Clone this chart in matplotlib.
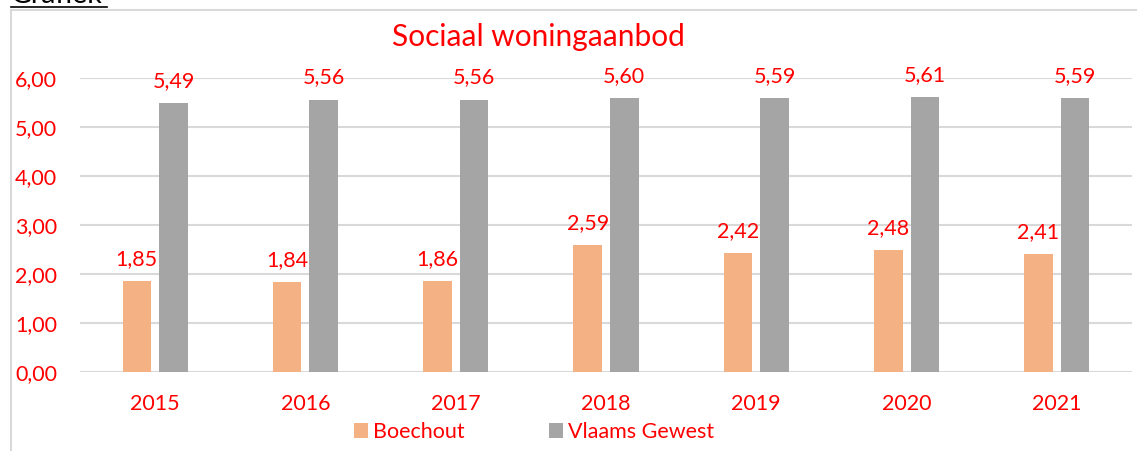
import matplotlib
matplotlib.use("Agg")
import matplotlib.pyplot as plt
import numpy as np
from matplotlib.lines import Line2D
from matplotlib.patches import Patch

years = ["2015", "2016", "2017", "2018", "2019", "2020", "2021"]
boechout = [1.85, 1.84, 1.86, 2.59, 2.42, 2.48, 2.41]
vlaams = [5.49, 5.56, 5.56, 5.60, 5.59, 5.61, 5.59]
series_names = ["Boechout", "Vlaams Gewest"]
yticks = [0, 1, 2, 3, 4, 5, 6]

plt.rcParams['font.family'] = ['Lato', 'DejaVu Sans']
RED = '#FF0000'
ORANGE = '#F4B183'
GREY = '#A5A5A5'
GRID = '#D9D9D9'
FS = 15.5

W, H = 1137, 451
fig = plt.figure(figsize=(W/100, H/100), dpi=100)
ax = fig.add_axes([80/W, 1-372/H, (1132-80)/W, (372-78)/H])

x = np.arange(len(years))
bw = 0.19
off = 0.122
b1 = ax.bar(x - off, boechout, bw, color=ORANGE, zorder=3)
b2 = ax.bar(x + off, vlaams, bw, color=GREY, zorder=3)

def fmt(v):
    return f"{v:.2f}".replace('.', ',')

for bars, vals in ((b1, boechout), (b2, vlaams)):
    for r, v in zip(bars, vals):
        ax.annotate(fmt(v), (r.get_x() + r.get_width()/2, v), xytext=(0, 11.5),
                    textcoords='offset points', ha='center', va='baseline',
                    color=RED, fontsize=FS, zorder=5)

ax.set_xlim(-0.5, len(years) - 0.5)
ax.set_ylim(0, 6)
ax.set_yticks(yticks)
ax.set_yticklabels([fmt(v) for v in yticks])
ax.set_xticks(x)
ax.set_xticklabels(years)
ax.tick_params(axis='both', length=0, labelcolor=RED, labelsize=FS)
ax.tick_params(axis='y', pad=16.5)
ax.tick_params(axis='x', pad=16)
ax.yaxis.grid(True, color=GRID, linewidth=1.5, zorder=0)
ax.set_axisbelow(True)
for s in ax.spines.values():
    s.set_visible(False)
ax.patch.set_alpha(0)

# title
fig.text(538/W, 1-37/H, "Sociaal woningaanbod", ha='center', va='center',
         color=RED, fontsize=21.5)

# legend
handles = [Patch(facecolor=ORANGE, edgecolor='none'), Patch(facecolor=GREY, edgecolor='none')]
fig.legend(handles, series_names, loc='center', bbox_to_anchor=(534/W, 1-432/H),
           ncol=2, frameon=False, fontsize=FS, labelcolor=RED,
           handlelength=0.65, handleheight=0.65, handletextpad=0.25,
           columnspacing=3.9, borderpad=0)

# chart frame (light grey)
fig.add_artist(Line2D([11/W, 11/W], [0, 1-10/H], color=GRID, linewidth=1.5,
                      transform=fig.transFigure))
fig.add_artist(Line2D([11/W, 1], [1-10/H, 1-10/H], color=GRID, linewidth=1.5,
                      transform=fig.transFigure))

# cut-off heading above the chart (as in the source)
fig.text(11/W, 1-3/H, "Grafiek", ha='left', va='baseline', color='black', fontsize=20.5)
fig.add_artist(Line2D([11/W, 107/W], [1-6.5/H, 1-6.5/H], color='black', linewidth=1.2,
                      transform=fig.transFigure))

fig.savefig("out.png", dpi=100)
